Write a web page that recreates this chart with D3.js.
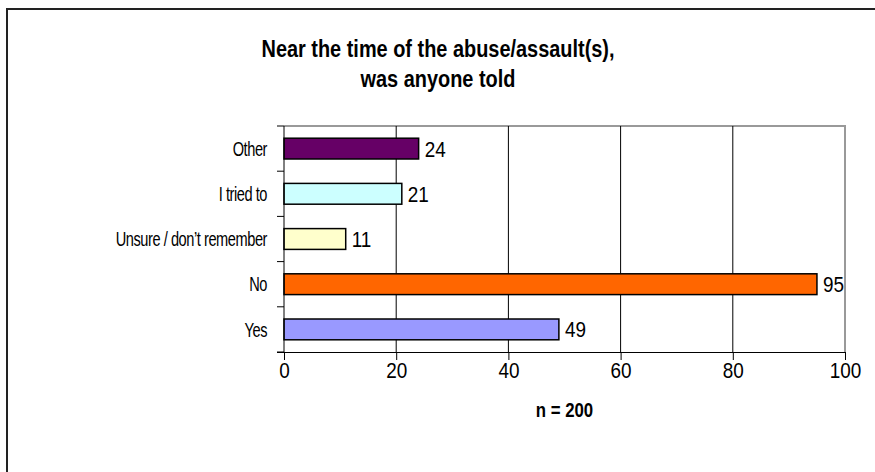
<!DOCTYPE html>
<html>
<head>
<meta charset="utf-8">
<script src="https://cdn.jsdelivr.net/npm/d3@7"></script>
<style>
  body { margin: 0; background: #fff; }
  text { font-family: Arial, "Liberation Sans", sans-serif; fill: #000; }
</style>
</head>
<body>
<div id="chart"></div>
<script>
// categories listed top to bottom, as in the picture
const categories = ["Other", "I tried to", "Unsure / don\u2019t remember", "No", "Yes"];
const counts = [24, 21, 11, 95, 49];
const barColors = ["#660066", "#ccffff", "#ffffcc", "#ff6600", "#9999ff"];
const xTicks = [0, 20, 40, 60, 80, 100];
const titleLines = ["Near the time of the abuse/assault(s),", "was anyone told"];
const xLabel = "n = 200";

const width = 875, height = 472;
const plot = {left: 284, right: 845, top: 126, bottom: 352};

const svg = d3.select("#chart").append("svg")
    .attr("width", width)
    .attr("height", height);

// the chart's text is narrow, like the old Excel rendering: squeeze it sideways
function squeeze(sel, sx) {
    sel.each(function() {
        let t = d3.select(this);
        let tx = +t.attr("x") || 0, ty = +t.attr("y") || 0;
        t.attr("x", 0).attr("y", 0)
         .attr("transform", `translate(${tx},${ty}) scale(${sx},1)`);
    });
}

// outer frame (runs off the right and bottom edges)
svg.append("rect")
    .attr("x", 7).attr("y", 9)
    .attr("width", 900).attr("height", 500)
    .attr("fill", "none")
    .attr("stroke", "#222")
    .attr("stroke-width", 2);

let x = d3.scaleLinear().domain([0, 100]).range([plot.left, plot.right]);
let y = d3.scaleBand().domain(categories).range([plot.top, plot.bottom])
    .paddingInner(0.54).paddingOuter(0.27);

// plot area border, grey on top and right
svg.append("path")
    .attr("d", `M${plot.left},${plot.top}H${plot.right}V${plot.bottom}`)
    .attr("fill", "none")
    .attr("stroke", "#999")
    .attr("stroke-width", 2);

// vertical gridlines
svg.append("g").selectAll("line")
    .data(xTicks.filter(d => d > 0 && d < 100))
    .enter().append("line")
    .attr("x1", d => x(d)).attr("x2", d => x(d))
    .attr("y1", plot.top).attr("y2", plot.bottom)
    .attr("stroke", "#000").attr("stroke-width", 1);

// bars
svg.append("g").selectAll("rect")
    .data(categories)
    .enter().append("rect")
    .attr("x", x(0))
    .attr("y", d => y(d))
    .attr("width", (d, i) => x(counts[i]) - x(0))
    .attr("height", y.bandwidth())
    .attr("fill", (d, i) => barColors[i])
    .attr("stroke", "#000")
    .attr("stroke-width", 1.5);

// value labels
svg.append("g").selectAll("text")
    .data(categories)
    .enter().append("text")
    .attr("x", (d, i) => x(counts[i]) + 6)
    .attr("y", d => y(d) + y.bandwidth() / 2)
    .attr("dy", "0.36em")
    .attr("font-size", 22)
    .text((d, i) => counts[i])
    .call(squeeze, 0.86);

// x axis
let xAxis = svg.append("g")
    .attr("transform", `translate(0,${plot.bottom})`)
    .call(d3.axisBottom(x).tickValues(xTicks).tickSize(8).tickSizeOuter(0));
xAxis.select(".domain").attr("d", `M${plot.left - 7},0.5H${plot.right}`).attr("stroke", "#000");
xAxis.selectAll("text")
    .attr("font-size", 22)
    .attr("font-family", "Arial, 'Liberation Sans', sans-serif")
    .attr("y", 0).attr("dy", "0")
    .attr("transform", "translate(0,26) scale(0.86,1)");

// y axis with ticks between categories
let yAxis = svg.append("g").attr("transform", `translate(${plot.left},0)`);
yAxis.append("line")
    .attr("x1", 0).attr("x2", 0)
    .attr("y1", plot.top).attr("y2", plot.bottom)
    .attr("stroke", "#000");
let step = (plot.bottom - plot.top) / categories.length;
yAxis.selectAll(".sep")
    .data(d3.range(categories.length + 1))
    .enter().append("line")
    .attr("x1", -7).attr("x2", 0)
    .attr("y1", d => plot.top + d * step)
    .attr("y2", d => plot.top + d * step)
    .attr("stroke", "#000");
yAxis.selectAll("text")
    .data(categories)
    .enter().append("text")
    .attr("x", -17)
    .attr("y", d => y(d) + y.bandwidth() / 2)
    .attr("dy", "0.36em")
    .attr("text-anchor", "end")
    .attr("font-size", 20)
    .attr("letter-spacing", -0.6)
    .text(d => d)
    .call(squeeze, 0.73);

// title
svg.append("g").selectAll("text")
    .data(titleLines)
    .enter().append("text")
    .attr("x", 438)
    .attr("y", (d, i) => 57 + i * 30)
    .attr("text-anchor", "middle")
    .attr("font-size", 24)
    .attr("font-weight", "bold")
    .text(d => d)
    .call(squeeze, 0.83);

// axis title
svg.append("text")
    .attr("x", (plot.left + plot.right) / 2)
    .attr("y", 417)
    .attr("text-anchor", "middle")
    .attr("font-size", 21)
    .attr("font-weight", "bold")
    .text(xLabel)
    .call(squeeze, 0.8);
</script>
</body>
</html>
